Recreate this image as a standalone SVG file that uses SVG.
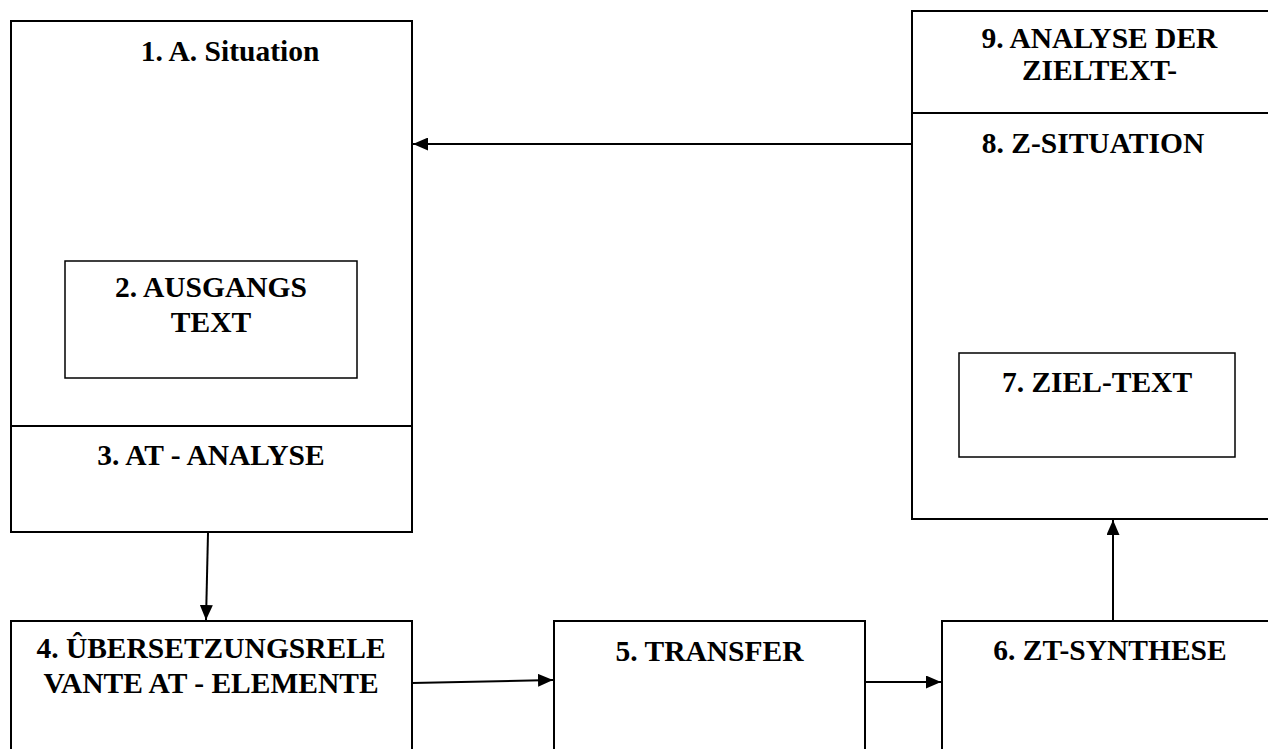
<svg xmlns="http://www.w3.org/2000/svg" width="1268" height="749" viewBox="0 0 1268 749">
<style>
.box{fill:none;stroke:#000;stroke-width:2}
.thin{fill:none;stroke:#000;stroke-width:1.5}
.t{font-family:"Liberation Serif","Times New Roman",serif;font-weight:bold;font-size:29.5px;fill:#000;text-anchor:middle}
.c{stroke:#000;stroke-width:2;fill:none}
</style>
<defs>
<marker id="ah" viewBox="0 0 15 13" refX="15" refY="6.5" markerWidth="15" markerHeight="13" markerUnits="userSpaceOnUse" orient="auto">
<path d="M0,0 L15,6.5 L0,13 z" fill="#000"/>
</marker>
</defs>
<rect width="1268" height="749" fill="#fff"/>
<g id="n1">
<rect class="box" x="11" y="21" width="401" height="511"/>
<text class="t" x="230" y="61">1. A. Situation</text>
</g>
<g id="n2">
<rect class="thin" x="65" y="261" width="292" height="117"/>
<text class="t" x="211" y="297">2. AUSGANGS</text>
<text class="t" x="211" y="332">TEXT</text>
</g>
<g id="n3">
<line class="box" x1="11" y1="426" x2="412" y2="426"/>
<text class="t" x="211" y="465">3. AT - ANALYSE</text>
</g>
<g id="n4">
<path class="box" d="M11,750 V621 H412 V750"/>
<text class="t" x="211" y="658">4. ÛBERSETZUNGSRELE</text>
<text class="t" x="211" y="693">VANTE AT - ELEMENTE</text>
</g>
<g id="n5">
<path class="box" d="M554,750 V621 H865 V750"/>
<text class="t" x="709.5" y="661">5. TRANSFER</text>
</g>
<g id="n6">
<path class="box" d="M942,750 V621 H1270"/>
<text class="t" x="1110" y="660">6. ZT-SYNTHESE</text>
</g>
<g id="n9">
<path class="box" d="M1270,11 H912 V113 H1270"/>
<text class="t" x="1099.5" y="48">9. ANALYSE DER</text>
<text class="t" x="1099.5" y="80">ZIELTEXT-</text>
</g>
<g id="n8">
<path class="box" d="M912,113 V519 H1270"/>
<text class="t" x="1093" y="153">8. Z-SITUATION</text>
</g>
<g id="n7">
<rect class="thin" x="959" y="353" width="276" height="104"/>
<text class="t" x="1097" y="392">7. ZIEL-TEXT</text>
</g>
<g id="connectors">
<line class="c" x1="208" y1="533" x2="206" y2="620" marker-end="url(#ah)"/>
<line class="c" x1="412" y1="683" x2="553" y2="680" marker-end="url(#ah)"/>
<line class="c" x1="865" y1="682" x2="941" y2="682" marker-end="url(#ah)"/>
<line class="c" x1="1113" y1="621" x2="1113" y2="520" marker-end="url(#ah)"/>
<line class="c" x1="912" y1="144" x2="413" y2="144" marker-end="url(#ah)"/>
</g>
</svg>
